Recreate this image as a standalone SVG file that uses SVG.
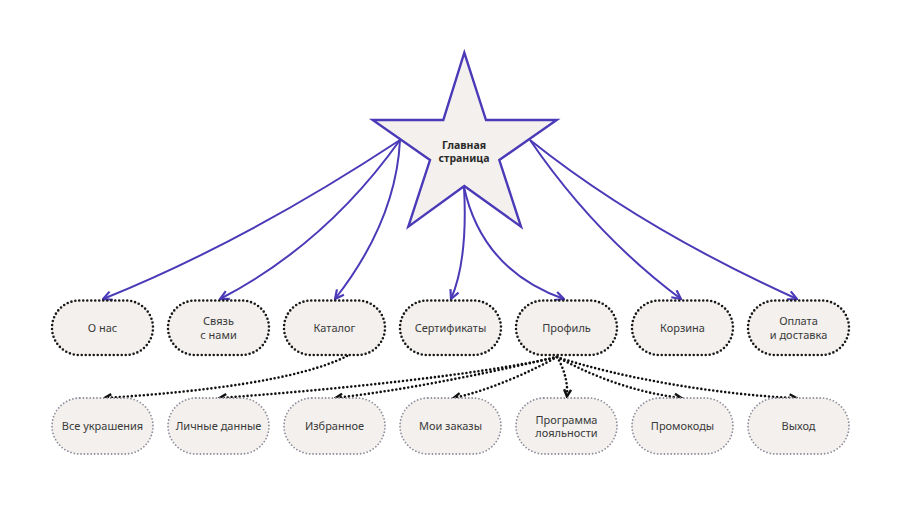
<svg xmlns="http://www.w3.org/2000/svg" width="900" height="506" viewBox="0 0 900 506">
<style>
.bg{fill:#ffffff}
.star{fill:#f3f0ed;stroke:#4a3ab8;stroke-width:2.4;stroke-linejoin:miter}
.n1{fill:#f3f0ed;stroke:#1a1a1a;stroke-width:2.6;stroke-dasharray:0 4;stroke-linecap:round}
.n2{fill:#f3f0ed;stroke:#8f8d9c;stroke-width:1.8;stroke-dasharray:0 3.4;stroke-linecap:round}
.t{font-family:"Noto Sans","Open Sans","DejaVu Sans",sans-serif;font-size:11px;fill:#3a3a3a;text-anchor:middle}
.tb{font-family:"Noto Sans","Open Sans","DejaVu Sans",sans-serif;font-size:10.5px;font-weight:bold;fill:#2a2a2a;text-anchor:middle}
.ep{fill:none;stroke:#4a3ab8;stroke-width:2;marker-end:url(#ap)}
.ed{fill:none;stroke:#111111;stroke-width:2.6;stroke-dasharray:0 4;stroke-linecap:round;marker-end:url(#ad)}
</style>
<defs>
<marker id="ap" viewBox="0 0 10 10" refX="9" refY="5" markerWidth="11" markerHeight="11" markerUnits="userSpaceOnUse" orient="auto">
<path d="M1,1 L9,5 L1,9" fill="none" stroke="#4a3ab8" stroke-width="2" stroke-linejoin="miter"/>
</marker>
<marker id="ad" viewBox="0 0 10 10" refX="8" refY="5" markerWidth="10" markerHeight="10" markerUnits="userSpaceOnUse" orient="auto">
<path d="M1.5,1.5 L8.5,5 L1.5,8.5" fill="none" stroke="#111111" stroke-width="2.4" stroke-linejoin="miter"/>
</marker>
</defs>
<rect class="bg" x="0" y="0" width="900" height="506"/>

<g id="connectors">
<path class="ep" d="M400,140 Q245,242 103,299"/>
<path class="ep" d="M400,140 Q326,244 220,299"/>
<path class="ep" d="M400,140 Q396,221 335,299"/>
<path class="ep" d="M464,187 Q468,260 451,299"/>
<path class="ep" d="M464,187 Q482,270 564,299"/>
<path class="ep" d="M530,140 Q595,235 681,299"/>
<path class="ep" d="M530,140 Q640,228 797,299"/>
<path class="ed" d="M347,356 C300,380 200,392 105,398"/>
<path class="ed" d="M557,357 C480,375 330,390 220,398"/>
<path class="ed" d="M557,357 C500,370 420,388 336,398"/>
<path class="ed" d="M557,357 C530,372 490,390 454,398"/>
<path class="ed" d="M557,357 C565,370 568,385 567,396"/>
<path class="ed" d="M557,357 C600,380 640,393 681,398"/>
<path class="ed" d="M557,357 C620,378 720,395 796,398"/>
</g>

<g id="home">
<polygon class="star" points="464.3,52.7 486,120 556.7,120 499.3,160 521,226.7 464.3,186 408.3,226.7 430,160 372.7,120 443.3,120"/>
<text class="tb" x="464" y="149">Главная</text>
<text class="tb" x="464" y="162">страница</text>
</g>

<g id="about"><rect class="n1" x="52" y="300.5" width="101" height="54.5" rx="27.25"/><text class="t" x="102.5" y="331.5">О нас</text></g>
<g id="contact"><rect class="n1" x="168" y="300.5" width="101" height="54.5" rx="27.25"/><text class="t" x="218.5" y="325">Связь</text><text class="t" x="218.5" y="339">с нами</text></g>
<g id="catalog"><rect class="n1" x="284" y="300.5" width="101" height="54.5" rx="27.25"/><text class="t" x="334.5" y="331.5">Каталог</text></g>
<g id="certificates"><rect class="n1" x="400" y="300.5" width="101" height="54.5" rx="27.25"/><text class="t" x="450.5" y="331.5">Сертификаты</text></g>
<g id="profile"><rect class="n1" x="516" y="300.5" width="101" height="54.5" rx="27.25"/><text class="t" x="566.5" y="331.5">Профиль</text></g>
<g id="cart"><rect class="n1" x="632" y="300.5" width="101" height="54.5" rx="27.25"/><text class="t" x="682.5" y="331.5">Корзина</text></g>
<g id="payment"><rect class="n1" x="748" y="300.5" width="101" height="54.5" rx="27.25"/><text class="t" x="798.5" y="325">Оплата</text><text class="t" x="798.5" y="339">и доставка</text></g>

<g id="all-jewelry"><rect class="n2" x="52" y="398" width="101" height="56" rx="28"/><text class="t" x="102.5" y="430">Все украшения</text></g>
<g id="personal"><rect class="n2" x="168" y="398" width="101" height="56" rx="28"/><text class="t" x="218.5" y="430">Личные данные</text></g>
<g id="favorites"><rect class="n2" x="284" y="398" width="101" height="56" rx="28"/><text class="t" x="334.5" y="430">Избранное</text></g>
<g id="orders"><rect class="n2" x="400" y="398" width="101" height="56" rx="28"/><text class="t" x="450.5" y="430">Мои заказы</text></g>
<g id="loyalty"><rect class="n2" x="516" y="398" width="101" height="56" rx="28"/><text class="t" x="566.5" y="423.5">Программа</text><text class="t" x="566.5" y="437">лояльности</text></g>
<g id="promo"><rect class="n2" x="632" y="398" width="101" height="56" rx="28"/><text class="t" x="682.5" y="430">Промокоды</text></g>
<g id="logout"><rect class="n2" x="748" y="398" width="101" height="56" rx="28"/><text class="t" x="798.5" y="430">Выход</text></g>
</svg>
